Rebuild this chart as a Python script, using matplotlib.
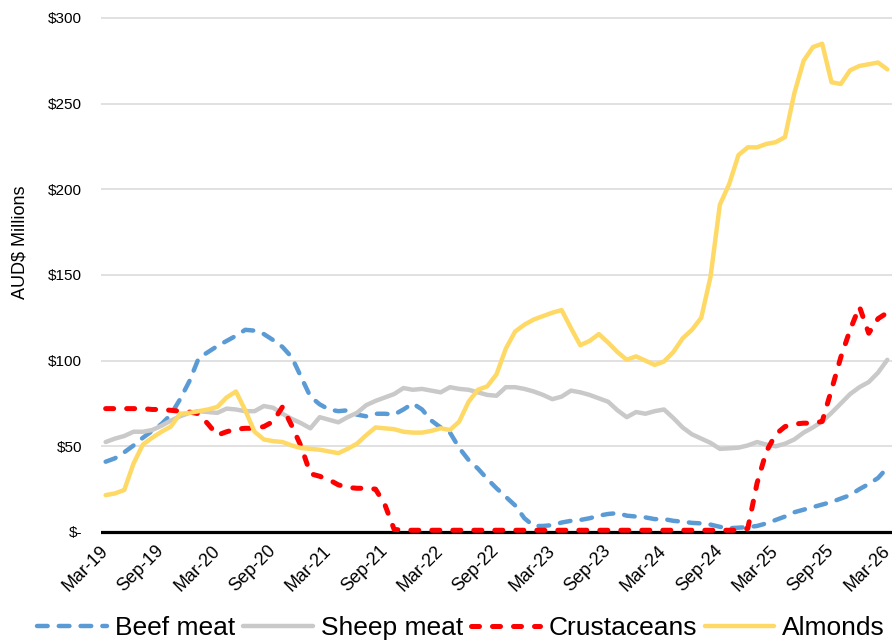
import matplotlib
matplotlib.use('Agg')
import matplotlib.pyplot as plt

plt.rcParams['font.family'] = ['Liberation Sans', 'DejaVu Sans']

# ---- data (AUD$ millions, monthly Mar-19 .. Mar-26) ----
beef = [41, 43, 46.5, 50.5, 55, 59, 63, 68.5, 77.5, 88,
        101.5, 105, 108.5, 111.5, 114.5, 118, 117.5, 115.5, 112, 108,
        102, 90.5, 79, 74.5, 71.5, 70.5, 71, 68.5, 67.5, 69,
        69, 68.5, 71.5, 75, 71.5, 65, 61, 58, 49, 42,
        37, 31, 25.5, 20.5, 15.5, 8, 3.5, 3.5, 4, 5.5,
        6.5, 7, 8, 9.5, 10.5, 11, 9.5, 9, 8.5, 7.5,
        7.5, 6.5, 6, 5.3, 5, 4.3, 3, 2.2, 2.5, 2.8,
        3.5, 5, 7, 9, 11.5, 13, 14.5, 16, 17.5, 19.5,
        21.5, 25, 28, 31.5, 37.5]

sheep = [52.5, 54.5, 56, 58.5, 58.5, 59.5, 62, 65, 67.5, 69.5,
         70.5, 70, 69.5, 72, 71.5, 70.5, 70.5, 73.5, 72.5, 69,
         66, 63.5, 60.5, 67, 65.5, 64, 67, 69.5, 74, 76.5,
         78.5, 80.5, 84, 83, 83.5, 82.5, 81.5, 84.5, 83.5, 83,
         81.5, 80, 79.5, 84.5, 84.5, 83.5, 82, 80, 77.5, 79,
         82.5, 81.5, 80, 78, 76, 71, 67, 70, 69, 70.5,
         71.5, 66.5, 61, 57, 54.5, 52, 48.5, 48.8, 49.2, 50.5,
         52.5, 51, 50, 51.5, 54, 58, 61, 64.5, 69.5, 75,
         80.5, 84.5, 87.5, 93, 100.5]

crustaceans = [72, 72, 72, 72, 72, 71.5, 71.5, 71, 70.5, 70,
               69, 63, 56.5, 58.5, 60, 60.5, 60.5, 61.5, 64.5, 73,
               62, 50, 34, 32.5, 30.5, 27.5, 26, 25.5, 25.5, 25,
               16, 1.5, 1, 1, 1, 1, 1, 1, 1, 1,
               1, 1, 1, 1, 1, 1, 1, 1, 1, 1,
               1, 1, 1, 1, 1, 1, 1, 1, 1, 1,
               1, 1, 1, 1, 1, 1, 1, 1, 1, 2,
               28.5, 47, 57, 61.5, 63, 63.5, 63.5, 64.5, 83, 102,
               118, 131.5, 116, 124.5, 128]

almonds = [21.5, 22.5, 24.5, 40, 51, 55, 58.5, 61.5, 69, 69.5,
           70.5, 71.5, 73, 78.5, 82, 71, 58.5, 54, 53, 52.5,
           50.5, 49, 48.5, 48, 47, 46, 48.5, 51.5, 56.5, 61,
           60.5, 60, 58.5, 58, 58, 59, 60.5, 59.5, 64.5, 76,
           83, 85, 92, 107, 117, 121, 124, 126, 128, 129.5,
           119, 109, 111.5, 115.5, 110.5, 105, 100.5, 102.5, 100, 97.5,
           99.5, 105, 113, 118, 125, 149, 191, 203, 220, 224.5,
           224.5, 226.5, 227.5, 230.5, 256, 275, 283, 285, 262.5, 261.5,
           269.5, 272, 273, 274, 270]

xtick_labels = ['Mar-19', 'Sep-19', 'Mar-20', 'Sep-20', 'Mar-21', 'Sep-21',
                'Mar-22', 'Sep-22', 'Mar-23', 'Sep-23', 'Mar-24', 'Sep-24',
                'Mar-25', 'Sep-25', 'Mar-26']
ytick_values = [0, 50, 100, 150, 200, 250, 300]
ytick_labels = ['$-', '$50', '$100', '$150', '$200', '$250', '$300']

# ---- figure ----
W, H = 892, 643
fig = plt.figure(figsize=(W / 100, H / 100), dpi=100)
y_bot_px, y_top_px = 537.1, 14.57
ax = fig.add_axes([101 / W, 1 - y_bot_px / H, 791 / W, (y_bot_px - y_top_px) / H])

x = list(range(len(beef)))

ax.plot(x, beef, color='#5B9BD5', lw=3.2, dashes=(2.4, 2.5),
        dash_capstyle='round', dash_joinstyle='round', label='Beef meat', zorder=3)
ax.plot(x, sheep, color='#C9C9C9', lw=3.2, solid_joinstyle='round',
        solid_capstyle='round', label='Sheep meat', zorder=4)
ax.plot(x, crustaceans, color='#FF0000', lw=3.6, dashes=(1.6, 2.6),
        dash_capstyle='round', dash_joinstyle='round', label='Crustaceans', zorder=5)
ax.plot(x, almonds, color='#FFD966', lw=3.2, solid_joinstyle='round',
        solid_capstyle='round', label='Almonds', zorder=6)

ax.axhline(0, color='black', lw=2.3, zorder=2)

ax.set_xlim(-0.5, len(beef) - 0.5)
ax.set_ylim(-3, 302)
ax.set_yticks(ytick_values)
ax.set_yticklabels(ytick_labels, fontsize=11)
ax.set_xticks(list(range(0, len(beef), 6)))
ax.set_xticklabels(xtick_labels, fontsize=13, rotation=45, ha='right',
                   va='center', rotation_mode='anchor')
ax.tick_params(axis='y', length=0, pad=13.5)
ax.tick_params(axis='x', length=0, pad=8)

ax.grid(axis='y', color='#D9D9D9', lw=1.1)
ax.set_axisbelow(True)
for s in ax.spines.values():
    s.set_visible(False)

ax.set_ylabel('AUD$ Millions', fontsize=13, va='center')
ax.yaxis.set_label_coords((20 - 101) / 791, (y_bot_px - 242) / (y_bot_px - y_top_px))

handles, labels = ax.get_legend_handles_labels()
fig.legend(handles, labels, loc='center', bbox_to_anchor=(0.517, 0.023), ncol=4,
           frameon=False, fontsize=19, handlelength=2.64, handletextpad=0.3,
           columnspacing=0.3)

fig.savefig('out.png', dpi=100)
